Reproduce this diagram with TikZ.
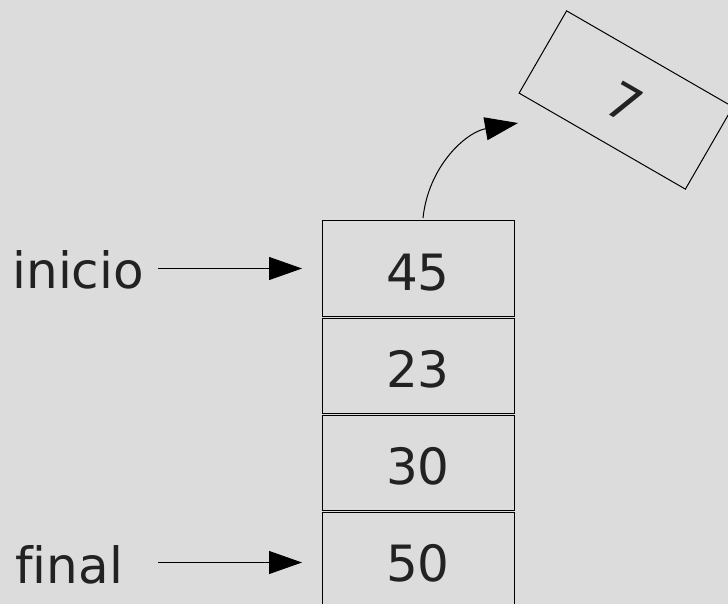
\documentclass[tikz,border=0pt]{standalone}
\usepackage{fontspec}
\setmainfont[Ligatures=NoCommon]{DejaVu Sans}
\usepackage{tikz}
\usetikzlibrary{arrows.meta,positioning}
\definecolor{bggray}{RGB}{220,220,220}
\definecolor{ink}{RGB}{34,34,34}
\tikzset{
  cell/.style={draw=black, line width=0.5pt, minimum width=96pt, minimum height=47.5pt,
    inner sep=0pt, outer sep=0pt, text=ink, text height=21.7pt, text depth=0pt},
  lbl/.style={inner sep=0pt, anchor=base west, text=ink},
  ptr/.style={-{Triangle[length=16.5pt,width=11.5pt]}, line width=0.5pt},
}

\begin{document}
\begin{tikzpicture}[x=0.5pt, y=-0.5pt, font=\fontsize{25}{30}\selectfont]
      \useasboundingbox (0,0) rectangle (728,604);
      \clip (0,0) rectangle (728,604);
      \fill[bggray] (0,0) rectangle (728,604);

      \node[cell] (c45) at (418,268.5) {45};
      \node[cell, below=1pt of c45] (c23) {23};
      \node[cell, below=1pt of c23] (c30) {30};
      \node[cell, below=1pt of c30] (c50) {50};

      \node[cell, rotate=-30] (c7) at (626,100) {7};

      \node[lbl] (ini) at (12,288) {inicio};
      \node[lbl] (fin) at (15,583.3) {final};

      \coordinate (iniA) at (158,268.5);
      \coordinate (finA) at (158,562.5);
      \coordinate (tip) at (518,123);

      \draw[ptr, shorten >=10pt] (iniA) -- (c45.west);
      \draw[ptr, shorten >=10pt] (finA) -- (finA -| c50.west);
      \draw[ptr] ([xshift=2.5pt,yshift=1.5pt]c45.north) to[out=84,in=190] (tip);
    \end{tikzpicture}
\end{document}
